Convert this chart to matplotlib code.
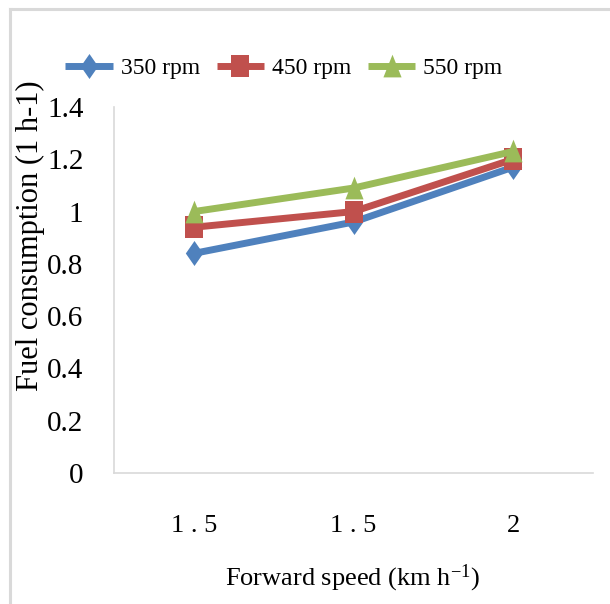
import matplotlib
matplotlib.use("Agg")
import matplotlib.pyplot as plt
from matplotlib.path import Path
from matplotlib.lines import Line2D

# Data
speeds = ["1 . 5", "1 . 5", "2"]
series_names = ["350 rpm", "450 rpm", "550 rpm"]
fuel_350 = [0.84, 0.96, 1.17]
fuel_450 = [0.94, 1.00, 1.20]
fuel_550 = [1.00, 1.09, 1.23]
y_ticks = [0, 0.2, 0.4, 0.6, 0.8, 1, 1.2, 1.4]
y_tick_labels = ["0", "0.2", "0.4", "0.6", "0.8", "1", "1.2", "1.4"]

colors = ["#4F81BD", "#C0504D", "#9BBB59"]

# Slightly tall marker shapes
diamond = Path([(0, -0.72), (0.5, 0), (0, 0.72), (-0.5, 0), (0, -0.72)],
               [Path.MOVETO, Path.LINETO, Path.LINETO, Path.LINETO, Path.CLOSEPOLY])
square = Path([(-0.5, -0.62), (0.5, -0.62), (0.5, 0.62), (-0.5, 0.62), (-0.5, -0.62)],
              [Path.MOVETO, Path.LINETO, Path.LINETO, Path.LINETO, Path.CLOSEPOLY])
triangle = Path([(-0.5, -0.6), (0.5, -0.6), (0, 0.65), (-0.5, -0.6)],
                [Path.MOVETO, Path.LINETO, Path.LINETO, Path.CLOSEPOLY])
markers = [diamond, square, triangle]
marker_sizes = [18, 16, 17]

plt.rcParams["font.family"] = ["Liberation Serif", "DejaVu Serif"]
plt.rcParams["mathtext.fontset"] = "custom"
plt.rcParams["mathtext.rm"] = "Liberation Serif"

fig = plt.figure(figsize=(6.10, 6.04), dpi=100)

# Outer chart frame (left and top edges)
frame_kw = dict(transform=fig.transFigure, color="#D9D9D9", linewidth=2.2)
fig.lines.append(Line2D([10 / 610, 10 / 610], [0, 1 - 9 / 604], **frame_kw))
fig.lines.append(Line2D([10 / 610, 1], [1 - 9 / 604, 1 - 9 / 604], **frame_kw))

ax = fig.add_axes([114 / 610, 1 - 473 / 604, (593 - 114) / 610, (473 - 107) / 604])

x = range(len(speeds))
for vals, name, c, m, ms in zip([fuel_350, fuel_450, fuel_550], series_names,
                                colors, markers, marker_sizes):
    ax.plot(x, vals, color=c, linewidth=5, marker=m, markersize=ms,
            markerfacecolor=c, markeredgecolor=c, markeredgewidth=0,
            label=name, solid_capstyle="butt")

ax.set_xlim(-0.5, 2.5)
ax.set_ylim(0, 1.4)
ax.set_xticks(list(x))
ax.set_xticklabels(speeds, fontsize=19)
ax.set_yticks(y_ticks)
ax.set_yticklabels(y_tick_labels, fontsize=21)
ax.tick_params(axis="both", length=0)
ax.tick_params(axis="y", pad=22)
ax.tick_params(axis="x", pad=30)

for side in ["top", "right"]:
    ax.spines[side].set_visible(False)
for side in ["left", "bottom"]:
    ax.spines[side].set_color("#D9D9D9")
    ax.spines[side].set_linewidth(1.2)

fig.text(352 / 610, 1 - 578 / 604, "Forward speed (km h$\\mathregular{^{-1}}$)",
         ha="center", va="center", fontsize=19)
fig.text(30 / 610, 1 - 236 / 604, "Fuel consumption (1 h-1)", rotation=90,
         ha="center", va="center", fontsize=22)

leg = fig.legend(loc="center", bbox_to_anchor=(284 / 610, 1 - 68 / 604), ncol=3,
                 frameon=False, fontsize=17, handlelength=2.0,
                 handletextpad=0.35, columnspacing=0.7, borderaxespad=0)

fig.savefig("out.png", dpi=100)
